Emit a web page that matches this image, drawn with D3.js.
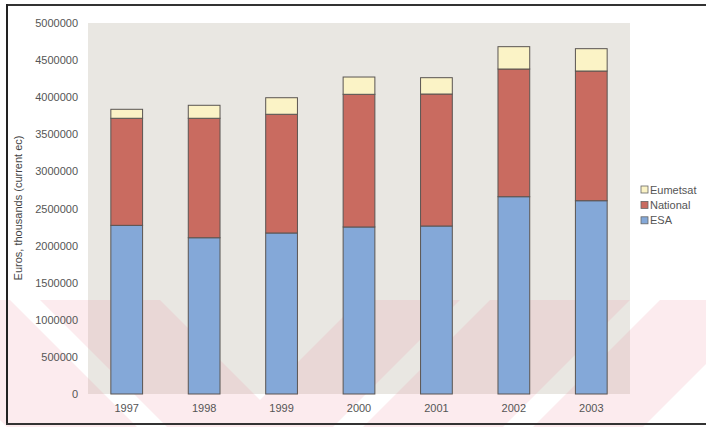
<!DOCTYPE html>
<html>
<head>
<meta charset="utf-8">
<script src="https://cdn.jsdelivr.net/npm/d3@7"></script>
<style>
  html, body { margin: 0; padding: 0; background: #ffffff; }
  svg { display: block; font-family: "Liberation Sans", Arial, sans-serif; }
</style>
</head>
<body>
<svg id="chart" width="706" height="427"></svg>
<script>
// Space budget by funding source, thousands of euros (current ecu)
const years = ["1997", "1998", "1999", "2000", "2001", "2002", "2003"];
const esa = [2273000, 2106000, 2170000, 2251000, 2264000, 2659000, 2605000];
const national = [1443000, 1610000, 1600000, 1788000, 1779000, 1721000, 1748000];
const eumetsat = [121000, 175000, 223000, 233000, 220000, 301000, 301000];
const seriesNames = ["ESA", "National", "Eumetsat"];
const yTicks = [0, 500000, 1000000, 1500000, 2000000, 2500000, 3000000, 3500000, 4000000, 4500000, 5000000];
const yTitle = "Euros, thousands (current ec)";

const colors = { ESA: "#84a8d8", National: "#c96b60", Eumetsat: "#fbf3c6" };

const svg = d3.select("#chart");
const W = 706, H = 427;
const plot = { left: 88, right: 630, top: 23, bottom: 394 };

// plot background
svg.append("rect")
  .attr("x", plot.left).attr("y", plot.top)
  .attr("width", plot.right - plot.left).attr("height", plot.bottom - plot.top)
  .attr("fill", "#e9e7e2");

// faint diagonal banding across the lower part of the sheet
const defs = svg.append("defs");
defs.append("clipPath").attr("id", "lowClip")
  .append("rect").attr("x", 0).attr("y", 300).attr("width", W).attr("height", H - 300);
const band = svg.append("g").attr("clip-path", "url(#lowClip)").attr("opacity", 0.16);
const bandPaths = [
  "M-120,300 L10,300 L140,430 L10,430 Z",
  "M40,300 L160,300 L290,430 L170,430 Z",
  "M230,430 L330,430 L460,300 L360,300 Z",
  "M360,430 L500,430 L630,300 L490,300 Z",
  "M530,430 L640,430 L770,300 L660,300 Z"
];
band.selectAll("path").data(bandPaths).join("path")
  .attr("d", d => d).attr("fill", "#ee8a9c");

const x = d3.scaleBand().domain(years).range([plot.left, plot.right]).paddingInner(0.59).paddingOuter(0.295);
const y = d3.scaleLinear().domain([0, 5000000]).range([plot.bottom, plot.top]);

const rows = years.map((yr, i) => ({ year: yr, ESA: esa[i], National: national[i], Eumetsat: eumetsat[i] }));
const stacked = d3.stack().keys(seriesNames)(rows);

const g = svg.append("g");
stacked.forEach(layer => {
  g.append("g").selectAll("rect").data(layer).join("rect")
    .attr("x", d => x(d.data.year))
    .attr("width", x.bandwidth())
    .attr("y", d => y(d[1]))
    .attr("height", d => y(d[0]) - y(d[1]))
    .attr("fill", colors[layer.key])
    .attr("stroke", "#5a5552")
    .attr("stroke-width", 1);
});

// y axis labels (no axis line)
const yAxis = d3.axisLeft(y).tickValues(yTicks).tickSize(0).tickPadding(0).tickFormat(d3.format("d"));
const ya = svg.append("g").attr("transform", `translate(${78},0)`).call(yAxis);
ya.select(".domain").remove();
ya.selectAll("text").attr("fill", "#555").attr("font-size", 11).attr("font-family", "Liberation Sans, Arial, sans-serif");

// x axis labels
const xAxis = d3.axisBottom(x).tickSize(0).tickPadding(0);
const xa = svg.append("g").attr("transform", `translate(0,${404})`).call(xAxis);
xa.select(".domain").remove();
xa.selectAll("text").attr("fill", "#555").attr("font-size", 11).attr("font-family", "Liberation Sans, Arial, sans-serif");

// y title
svg.append("text")
  .attr("transform", `translate(22,${208}) rotate(-90)`)
  .attr("text-anchor", "middle")
  .attr("font-size", 11)
  .attr("fill", "#444")
  .text(yTitle);

// legend
const legendItems = ["Eumetsat", "National", "ESA"];
const lg = svg.append("g").attr("transform", "translate(641,186)");
legendItems.forEach((name, i) => {
  const row = lg.append("g").attr("transform", `translate(0,${i * 15.4})`);
  row.append("rect").attr("x", 0).attr("y", 0).attr("width", 7).attr("height", 7)
    .attr("fill", colors[name]).attr("stroke", "#666").attr("stroke-width", 0.8);
  row.append("text").attr("x", 9).attr("y", 7.5).attr("font-size", 11).attr("fill", "#555").text(name);
});

// sheet frame
svg.append("line").attr("x1", 6).attr("x2", W).attr("y1", 5).attr("y2", 5).attr("stroke", "#333").attr("stroke-width", 2);
svg.append("line").attr("x1", 7).attr("x2", 7).attr("y1", 4).attr("y2", 425).attr("stroke", "#222").attr("stroke-width", 2);
svg.append("line").attr("x1", 6).attr("x2", W).attr("y1", 424).attr("y2", 424).attr("stroke", "#333").attr("stroke-width", 2);
</script>
</body>
</html>
